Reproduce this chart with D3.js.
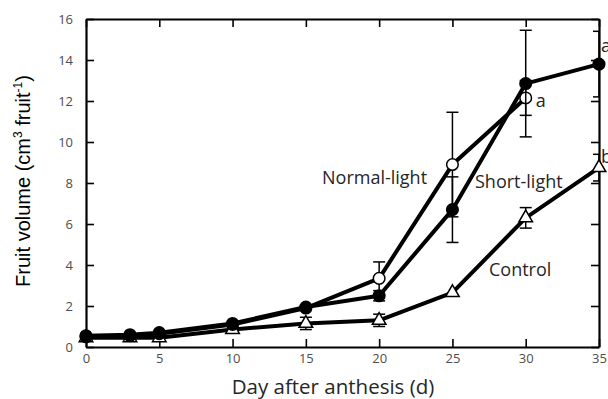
<!DOCTYPE html>
<html>
<head>
<meta charset="utf-8">
<script src="https://cdn.jsdelivr.net/npm/d3@7"></script>
<style>
  html, body { margin: 0; padding: 0; background: #fff; }
  svg { display: block; }
</style>
</head>
<body>
<svg id="chart" width="608" height="399"></svg>
<script>
// Fruit volume growth after anthesis under three light treatments
const days = [0, 3, 5, 10, 15, 20, 25, 30, 35];

const normalLight    = [0.5, 0.55, 0.65, 1.1, 1.9, 3.35, 8.9, 12.15];
const normalLightErr = [null, null, null, null, null, 0.8, 2.55, 0.85];

const shortLight    = [0.55, 0.6, 0.7, 1.15, 1.95, 2.5, 6.7, 12.85, 13.8];
const shortLightErr = [null, null, null, null, null, 0.25, 1.6, 2.6, 1.6];

const control    = [0.45, 0.45, 0.45, 0.85, 1.15, 1.3, 2.65, 6.3, 8.75];
const controlErr = [null, null, null, null, 0.3, 0.3, null, 0.5, 0.65];

const xTicks = [0, 5, 10, 15, 20, 25, 30, 35];
const yTicks = [0, 2, 4, 6, 8, 10, 12, 14, 16];

const seriesNames = ["Normal-light", "Short-light", "Control"];
// significance letters: [day, value, letter]
const letters = [[35, 13.8, "a"], [30, 12.15, "a"], [35, 8.75, "b"]];

const svg = d3.select("#chart");
const plotL = 86, plotR = 599, plotT = 19, plotB = 347;

const x = d3.scaleLinear().domain([0, 35]).range([plotL, plotR]);
const y = d3.scaleLinear().domain([0, 16]).range([plotB, plotT]);

const tickFont = "'Open Sans', sans-serif";

// axes with inward ticks on all four sides
const gx = svg.append("g").attr("transform", `translate(0,${plotB})`)
  .call(d3.axisBottom(x).tickValues(xTicks).tickSizeInner(-8).tickSizeOuter(0).tickPadding(7));
const gxt = svg.append("g").attr("transform", `translate(0,${plotT})`)
  .call(d3.axisTop(x).tickValues(xTicks).tickSizeInner(-8).tickSizeOuter(0).tickFormat(""));
const gy = svg.append("g").attr("transform", `translate(${plotL},0)`)
  .call(d3.axisLeft(y).tickValues(yTicks).tickSizeInner(-8).tickSizeOuter(0).tickPadding(13));
const gyr = svg.append("g").attr("transform", `translate(${plotR},0)`)
  .call(d3.axisRight(y).tickValues(yTicks).tickSizeInner(-8).tickSizeOuter(0).tickFormat(""));

[gx, gxt, gy, gyr].forEach(g => {
  g.select(".domain").attr("stroke", "#000").attr("stroke-width", 2.2);
  g.selectAll(".tick line").attr("stroke", "#000").attr("stroke-width", 1.6);
  g.selectAll(".tick text")
    .attr("fill", "#4d4d4d")
    .style("font-family", tickFont)
    .style("font-size", "13px");
});

// clip region for error bars
svg.append("clipPath").attr("id", "plotClip")
  .append("rect").attr("x", plotL).attr("y", 0).attr("width", plotR - plotL).attr("height", 399);

const series = [
  { name: seriesNames[2], values: control, err: controlErr, marker: "triangle" },
  { name: seriesNames[0], values: normalLight, err: normalLightErr, marker: "open" },
  { name: seriesNames[1], values: shortLight, err: shortLightErr, marker: "filled" }
];

const line = d3.line().x(d => x(d.day)).y(d => y(d.v));

series.forEach(s => {
  const pts = s.values.map((v, i) => ({ day: days[i], v, e: s.err[i] }));
  const g = svg.append("g");

  g.append("path").datum(pts)
    .attr("d", line)
    .attr("fill", "none")
    .attr("stroke", "#000")
    .attr("stroke-width", 4)
    .attr("stroke-linejoin", "round");

  const eb = g.append("g").attr("clip-path", "url(#plotClip)")
    .selectAll("g").data(pts.filter(p => p.e != null)).join("g")
    .attr("stroke", "#000").attr("stroke-width", 1.5);
  eb.append("line")
    .attr("x1", p => x(p.day)).attr("x2", p => x(p.day))
    .attr("y1", p => y(p.v - p.e)).attr("y2", p => y(p.v + p.e));
  eb.append("line")
    .attr("x1", p => x(p.day) - 6).attr("x2", p => x(p.day) + 6)
    .attr("y1", p => y(p.v + p.e)).attr("y2", p => y(p.v + p.e));
  eb.append("line")
    .attr("x1", p => x(p.day) - 6).attr("x2", p => x(p.day) + 6)
    .attr("y1", p => y(p.v - p.e)).attr("y2", p => y(p.v - p.e));

  if (s.marker === "triangle") {
    g.selectAll("path.m").data(pts).join("path").attr("class", "m")
      .attr("d", d3.symbol(d3.symbolTriangle, 80))
      .attr("transform", p => `translate(${x(p.day)},${y(p.v)})`)
      .attr("fill", "#fff").attr("stroke", "#000").attr("stroke-width", 1.5);
  } else {
    g.selectAll("circle").data(pts).join("circle")
      .attr("cx", p => x(p.day)).attr("cy", p => y(p.v))
      .attr("r", 5.8)
      .attr("fill", s.marker === "filled" ? "#000" : "#fff")
      .attr("stroke", "#000").attr("stroke-width", 1.5);
  }
});

// series labels
const labelStyle = sel => sel
  .attr("fill", "#262626")
  .style("font-family", "'Open Sans', sans-serif")
  .style("font-size", "18px");

const seriesLabelPos = [[322, 184], [475, 188], [489, 276]];
seriesNames.forEach((n, i) => {
  svg.append("text").attr("x", seriesLabelPos[i][0]).attr("y", seriesLabelPos[i][1])
    .text(n).call(labelStyle);
});

// significance letters placed beside their points
letters.forEach(([d, v, t]) => {
  const ox = d === 35 ? 2 : 10, oy = d === 35 ? (v > 10 ? -12 : -5) : 9;
  svg.append("text").attr("x", x(d) + ox).attr("y", y(v) + oy)
    .text(t).call(labelStyle);
});

// axis titles
svg.append("text")
  .attr("x", 333).attr("y", 394)
  .attr("text-anchor", "middle")
  .attr("fill", "#262626")
  .style("font-family", "'Open Sans', sans-serif")
  .style("font-size", "20.5px")
  .text("Day after anthesis (d)");

const yt = svg.append("text")
  .attr("transform", "translate(30,181) rotate(-90)")
  .attr("text-anchor", "middle")
  .attr("fill", "#000")
  .style("font-family", "'Liberation Sans', Arial, sans-serif")
  .style("font-size", "20px");
yt.append("tspan").text("Fruit volume (cm");
yt.append("tspan").attr("dy", -8).style("font-size", "12px").text("3");
yt.append("tspan").attr("dy", 8).text(" fruit");
yt.append("tspan").attr("dy", -8).style("font-size", "12px").text("-1");
yt.append("tspan").attr("dy", 8).text(")");
</script>
</body>
</html>
